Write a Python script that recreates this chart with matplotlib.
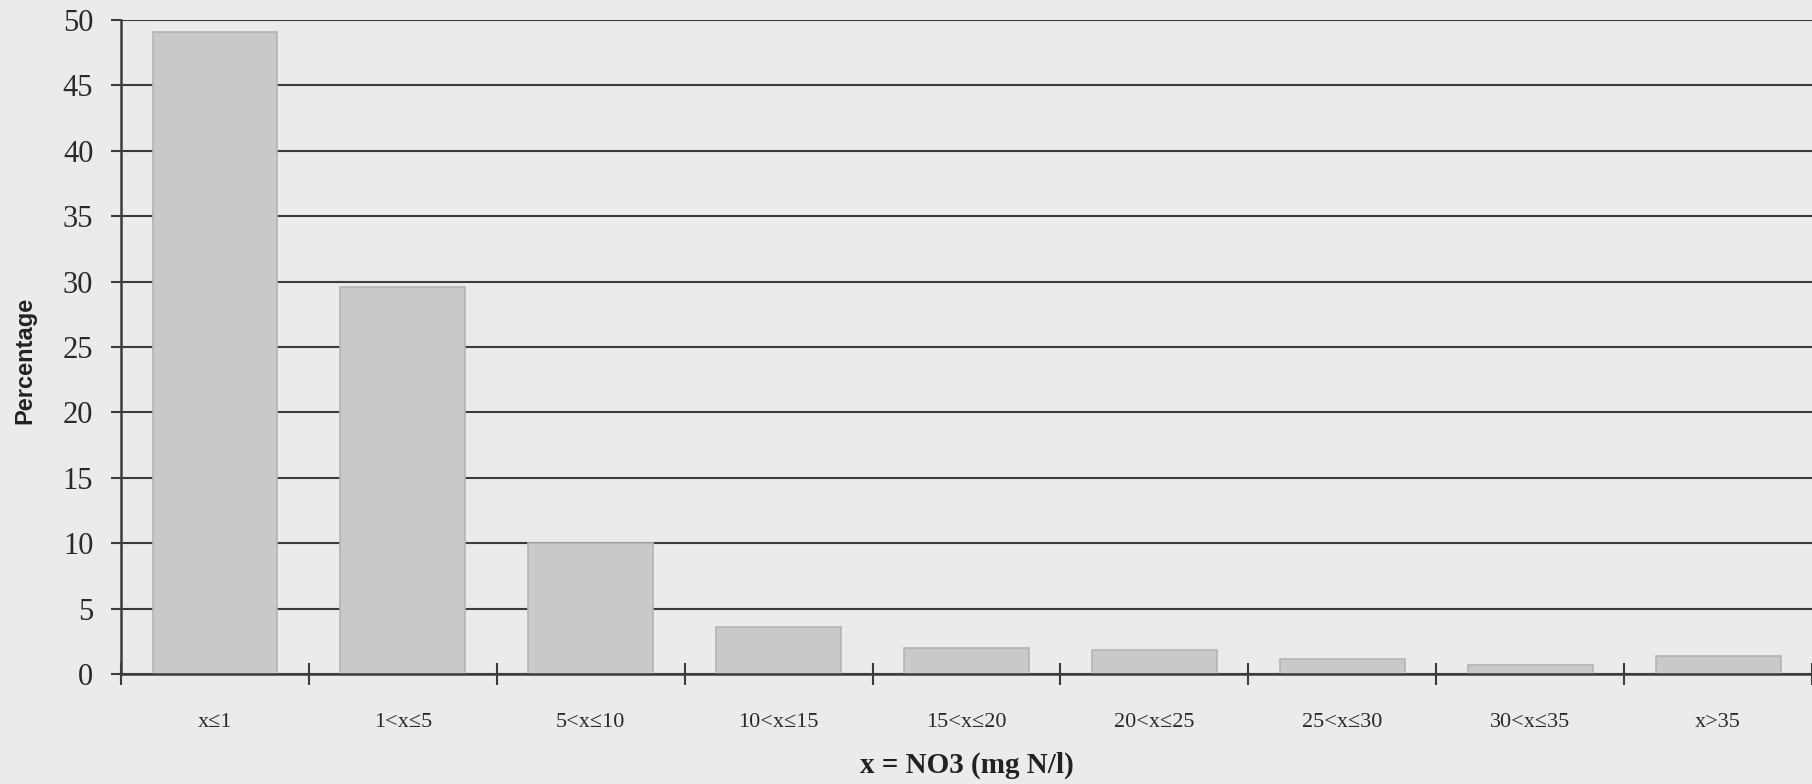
import numpy as np
import matplotlib
matplotlib.use("Agg")
import matplotlib.pyplot as plt

# nitrate classes and share of samples (%)
categories = ["x\u22641", "1<x\u22645", "5<x\u226410", "10<x\u226415", "15<x\u226420",
              "20<x\u226425", "25<x\u226430", "30<x\u226435", "x>35"]
percentages = [49.1, 29.6, 10.0, 3.6, 1.95, 1.85, 1.15, 0.7, 1.4]
y_ticks = [0, 5, 10, 15, 20, 25, 30, 35, 40, 45, 50]

bg = "#ebebeb"
line_col = "#3c3c3c"
serif = ["Liberation Serif", "DejaVu Serif"]

fig = plt.figure(figsize=(18.12, 7.84), dpi=100, facecolor=bg)
ax = fig.add_axes([0.0668, 0.1403, 1.0 - 0.0668, 0.9745 - 0.1403])
ax.set_facecolor(bg)

x = np.arange(len(categories))
ax.bar(x, percentages, width=0.665, color="#c9c9c9", edgecolor="#b4b4b4",
       linewidth=1.2, zorder=3)

ax.set_xlim(-0.5, len(categories) - 0.5)
ax.set_ylim(0, 50)

# horizontal gridlines behind the bars
ax.set_yticks(y_ticks)
ax.yaxis.grid(True, color=line_col, linewidth=1.5, zorder=0)
ax.set_axisbelow(True)
ax.tick_params(axis="y", direction="out", length=7, width=1.5, color=line_col,
               pad=13, labelsize=22, labelcolor="#2a2a2a")
for lab in ax.get_yticklabels():
    lab.set_family(serif)

# category boundaries as major ticks, labels on minor ticks
ax.set_xticks(np.arange(len(categories) + 1) - 0.5)
ax.set_xticklabels([])
ax.set_xticks(x, minor=True)
ax.set_xticklabels(categories, minor=True)
ax.tick_params(axis="x", which="major", direction="inout", length=16, width=1.5,
               color=line_col)
ax.tick_params(axis="x", which="minor", length=0, pad=28, labelsize=16,
               labelcolor="#2a2a2a")
for lab in ax.get_xticklabels(minor=True):
    lab.set_family(serif)

for side in ["top", "right"]:
    ax.spines[side].set_visible(False)
for side in ["left", "bottom"]:
    ax.spines[side].set_color(line_col)
    ax.spines[side].set_linewidth(1.8)
    ax.spines[side].set_zorder(4)

fig.text(0.5334, 0.024, "x = NO3 (mg N/l)", ha="center", va="center",
         fontsize=21, fontweight="bold", family=serif, color="#222222")
fig.text(0.0138, 0.54, "Percentage", ha="center", va="center", rotation=90,
         fontsize=17, fontweight="bold", family=["Liberation Sans", "DejaVu Sans"],
         color="#222222")

fig.savefig("out.png", dpi=100, facecolor=bg)
